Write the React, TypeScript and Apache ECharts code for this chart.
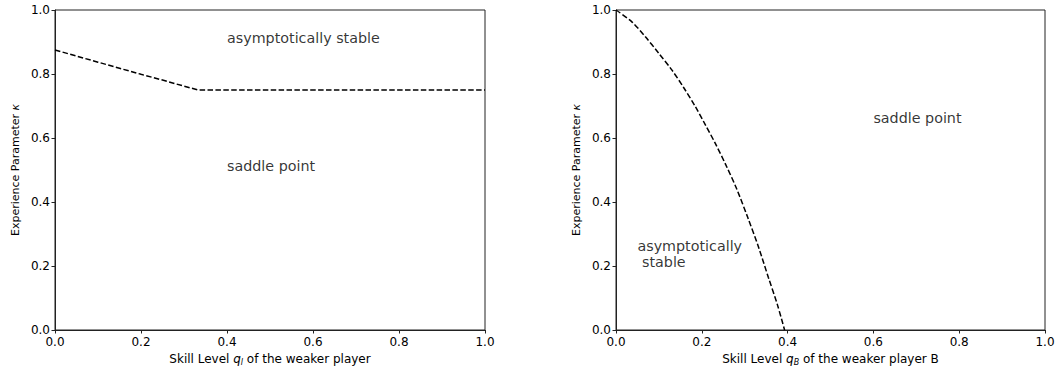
import React, { useEffect, useRef } from "react";
import * as echarts from "echarts";

// Stability boundary for the first panel: kappa vs skill level q_l
const leftBoundaryQ = [0, 0.05, 0.1, 0.15, 0.2, 0.25, 0.3, 1 / 3, 0.5, 0.75, 1.0];
const leftBoundaryK = [0.875, 0.856, 0.837, 0.818, 0.799, 0.781, 0.762, 0.75, 0.75, 0.75, 0.75];

// Stability boundary for the second panel: kappa vs skill level q_B
const rightBoundaryQ = [
  0, 0.037, 0.068, 0.0995, 0.1305, 0.158, 0.185, 0.208, 0.2315, 0.256, 0.281, 0.307, 0.332,
  0.355, 0.376, 0.393,
];
const rightBoundaryK = [
  1.0, 0.963, 0.917, 0.865, 0.812, 0.757, 0.698, 0.642, 0.583, 0.516, 0.442, 0.352, 0.26,
  0.165, 0.08, 0.0,
];

// Region annotations: [q, kappa, text]
const leftNotes: [number, number, string][] = [
  [0.4, 0.9, "asymptotically stable"],
  [0.4, 0.5, "saddle point"],
];
const rightNotes: [number, number, string][] = [
  [0.6, 0.65, "saddle point"],
  [0.05, 0.2, "asymptotically\n stable"],
];

const FONT = "DejaVu Sans";

function makeAxisX(gridIndex: number, sub: string, tail: string) {
  return {
    type: "value",
    gridIndex,
    min: 0,
    max: 1,
    interval: 0.2,
    name: `{a|Skill Level }{q|q}{s|${sub}}{a| of the weaker player${tail}}`,
    nameLocation: "middle",
    nameGap: 22,
    nameTextStyle: {
      fontFamily: FONT,
      color: "#000",
      rich: {
        a: { fontFamily: FONT, fontSize: 12, color: "#000" },
        q: { fontFamily: FONT, fontSize: 12, fontStyle: "italic", color: "#000" },
        s: {
          fontFamily: FONT,
          fontSize: 8,
          fontStyle: "italic",
          color: "#000",
          padding: [6, 0, 0, 0],
        },
      },
    },
    axisLine: { show: true, onZero: false, lineStyle: { color: "#222", width: 1 } },
    axisTick: { show: true, length: 3.5, lineStyle: { color: "#222", width: 1 } },
    axisLabel: {
      fontFamily: FONT,
      fontSize: 12,
      color: "#000",
      margin: 6,
      formatter: (v: number) => v.toFixed(1),
    },
    splitLine: { show: false },
  };
}

function makeAxisY(gridIndex: number) {
  return {
    type: "value",
    gridIndex,
    min: 0,
    max: 1,
    interval: 0.2,
    name: "{a|Experience Parameter }{k|κ}",
    nameLocation: "middle",
    nameGap: 34,
    nameTextStyle: {
      rich: {
        a: { fontFamily: FONT, fontSize: 11, color: "#000" },
        k: { fontFamily: FONT, fontSize: 11, fontStyle: "italic", color: "#000" },
      },
    },
    axisLine: { show: true, onZero: false, lineStyle: { color: "#222", width: 1 } },
    axisTick: { show: true, length: 3.5, lineStyle: { color: "#222", width: 1 } },
    axisLabel: {
      fontFamily: FONT,
      fontSize: 12,
      color: "#000",
      margin: 5,
      formatter: (v: number) => v.toFixed(1),
    },
    splitLine: { show: false },
  };
}

function noteSeries(idx: number, notes: [number, number, string][]) {
  return {
    type: "scatter",
    xAxisIndex: idx,
    yAxisIndex: idx,
    symbolSize: 0,
    silent: true,
    data: notes.map((n) => ({ value: [n[0], n[1]], name: n[2] })),
    label: {
      show: true,
      position: [0, 0],
      align: "left",
      verticalAlign: "bottom",
      offset: [0, 3.5],
      formatter: (p: any) => p.name,
      fontFamily: FONT,
      fontSize: 14.3,
      lineHeight: 16,
      color: "#000",
    },
  };
}

function boundarySeries(idx: number, qs: number[], ks: number[], smooth: boolean) {
  return {
    type: "line",
    xAxisIndex: idx,
    yAxisIndex: idx,
    showSymbol: false,
    smooth: smooth ? 0.3 : false,
    silent: true,
    data: qs.map((q, i) => [q, ks[i]]),
    lineStyle: { color: "#000", width: 1.5, type: [5.5, 2.4] },
  };
}

export default function App() {
  const ref = useRef<HTMLDivElement>(null);

  useEffect(() => {
    if (!ref.current) return;
    const chart = echarts.init(ref.current, undefined, { renderer: "svg" });
    chart.setOption({
      animation: false,
      backgroundColor: "#fff",
      grid: [
        { left: 55, top: 10, width: 430, height: 320, show: true, borderColor: "#222", borderWidth: 1 },
        { left: 616, top: 10, width: 429, height: 320, show: true, borderColor: "#222", borderWidth: 1 },
      ],
      xAxis: [makeAxisX(0, "l", ""), makeAxisX(1, "B", " B")],
      yAxis: [makeAxisY(0), makeAxisY(1)],
      series: [
        boundarySeries(0, leftBoundaryQ, leftBoundaryK, false),
        boundarySeries(1, rightBoundaryQ, rightBoundaryK, true),
        noteSeries(0, leftNotes),
        noteSeries(1, rightNotes),
      ],
    });
    return () => chart.dispose();
  }, []);

  return (
    <div
      ref={ref}
      style={{ position: "fixed", left: 0, top: 0, width: 1058, height: 371, background: "#fff" }}
    />
  );
}
